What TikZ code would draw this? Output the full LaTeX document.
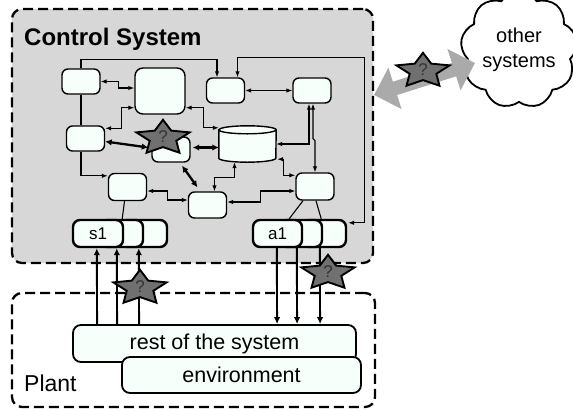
\documentclass[tikz,border=0pt]{standalone}
\usepackage{fontspec}
\setmainfont{Liberation Sans}
\usetikzlibrary{arrows.meta,calc,shapes.symbols}
\definecolor{boxfill}{RGB}{246,255,250}
\definecolor{panel}{RGB}{215,215,215}
\definecolor{stargray}{RGB}{112,112,112}
\definecolor{linkgray}{RGB}{170,170,170}

\tikzset{
  qstar/.pic={
    \draw[fill=stargray, line width=1.9pt, line join=miter, x=1pt, y=0.65pt]
      (90:28) -- (126:14) -- (162:28) -- (198:14) -- (234:28) -- (270:14)
      -- (306:28) -- (342:14) -- (18:28) -- (54:14) -- cycle;
    \node[font=\fontsize{17}{17}\selectfont, text=black!80, inner sep=0pt] (-q) at (0,-1.5) {?};
  }
}

\begin{document}
\begin{tikzpicture}[x=1pt,y=-1pt,
  frame/.style={draw, line width=2.3pt, dash pattern=on 10pt off 5pt, rounded corners=10pt, inner sep=0pt},
  unit/.style={draw, line width=1.4pt, rounded corners=6pt, fill=boxfill,
    minimum width=38pt, minimum height=25pt, inner sep=0pt},
  port/.style={draw, line width=2.4pt, rounded corners=7pt, fill=boxfill,
    minimum height=27pt, inner sep=0pt, font=\fontsize{17}{20}\selectfont},
  plantbox/.style={draw, line width=1.8pt, rounded corners=8pt, fill=boxfill,
    inner sep=0pt, font=\fontsize{21.5}{25}\selectfont},
  wire/.style={line width=1.1pt, >={Latex[length=6pt,width=4.5pt]}},
  heavy/.style={line width=2.3pt, {Latex[length=6.5pt,width=6.5pt]}-{Latex[length=6.5pt,width=6.5pt]}},
  sig/.style={line width=1.9pt, -{Latex[length=7pt,width=6.5pt]}},
  thinline/.style={line width=1.1pt},
  label/.style={inner sep=0pt, anchor=base west}
]
\useasboundingbox (0,0) rectangle (573,410);

% the two enclosing regions
\node[frame, fill=panel, minimum width=361pt, minimum height=254pt] (cs) at (192.5,136) {};
\node[frame, fill=white, minimum width=363pt, minimum height=114pt] (plant) at (193.5,350) {};
\node[label, font=\bfseries\fontsize{24}{24}\selectfont] (cstitle) at (24,45) {Control System};
\node[label, font=\fontsize{23}{23}\selectfont] (planttitle) at (24,391) {Plant};

% components of the control system
\node[unit] (A) at (81,81.5) {};
\node[unit, minimum width=50pt, minimum height=46pt, rounded corners=8pt] (B) at (160,91) {};
\node[unit] (C) at (225.5,90.5) {};
\node[unit] (D) at (312,90.5) {};
\node[unit] (E) at (85.5,138.5) {};
\node[unit] (F) at (171,149.5) {};
\node[unit, minimum height=27pt] (H) at (127.5,187) {};
\node[unit, minimum height=26pt] (I) at (207.5,205) {};
\node[unit, minimum height=27pt] (J) at (315,186.5) {};

% data store drawn as a cylinder
\node[minimum width=57pt, minimum height=36pt, inner sep=0pt] (G) at (247.5,144) {};
\draw[line width=1.4pt, fill=boxfill]
  ($(G.north west)+(0,4)$) -- ($(G.south west)+(0,-4)$)
  arc[start angle=180, end angle=360, x radius=28.5pt, y radius=4pt]
  -- ($(G.north east)+(0,4)$)
  arc[start angle=0, end angle=180, x radius=28.5pt, y radius=4pt] -- cycle;
\draw[line width=1.4pt] ($(G.north west)+(0,4)$)
  arc[start angle=180, end angle=360, x radius=28.5pt, y radius=4pt];

% sensor and actuator ports
\node[port, minimum width=47pt] (s3) at (143.5,233.5) {};
\node[port, minimum width=43pt] (s2) at (121.5,233.5) {};
\node[port, minimum width=50pt] (s1) at (98,233.5) {s1};
\node[port, minimum width=44pt] (a3) at (324,233.5) {};
\node[port, minimum width=42pt] (a2) at (301,233.5) {};
\node[port, minimum width=49pt] (a1) at (277.5,233.5) {a1};

% plant parts
\node[plantbox, minimum width=283pt, minimum height=37pt] (R) at (214.5,343.5) {rest of the system};
\node[plantbox, minimum width=239pt, minimum height=36pt] (N) at (241.5,375) {environment};

% left spine
\draw[wire,->] (A.north) |- ($(C.north)+(-8.5,-18)$) -- ($(C.north)+(-8.5,0)$);
\draw[wire] (A.south) -- (A.south |- E.north);
\draw[wire,->] (A.south |- E.south) |- ($(H.north west)+(0,3)$);

% feedback from the actuator ports
\draw[wire,<->] ($(a3.north east)+(1,4)$) -- ++(16,0) |- ($(C.north)+(12,-20)$) -- ($(C.north)+(12,0)$);

% internal links
\draw[wire,<->] (A.east) -- ++(18,0) |- ($(B.west)+(0,-3)$);
\draw[wire,<->] ($(E.north east)+(0,3)$) -- ++(16,0) |- ($(B.south west)+(0,-7)$);
\draw[wire,<->] ($(B.south east)+(0,-7)$) -- ++(18,0) |- ($(G.north west)+(0,2)$);
\draw[wire,<->] (C.east) -- (D.west);
\draw[wire,<->] (G.east) -| ($(D.south)+(-3,0)$);
\draw[wire,<->] ($(D.south)+(1,0)$) -- ++(0,35) -- ++(2,2) -- (J.north);
\draw[wire,<->] ($(G.south east)+(1,-3)$) -- ++(6,0) |- ($(J.north west)+(0,3)$);
\draw[wire,<->] ($(G.south)+(-13,0)$) -- ++(0,15) -| ($(I.north)+(7,0)$);
\draw[wire,<->] ($(I.east)+(0,-3)$) -- ++(33,0) |- ($(J.west)+(0,4.5)$);
\draw[wire,<->] ($(H.east)+(0,4)$) -- ++(20,0) |- ($(I.west)+(0,-5)$);

% heavy links around F
\draw[heavy] ($(E.east)+(0,3)$) -- ($(F.west)+(-3,-2)$);
\draw[heavy] ($(F.east)+(2,-2)$) -- ($(F.east -| G.west)+(0,-2)$);
\draw[heavy] ($(F.south)+(11,3)$) -- ($(I.north)+(-10,-4)$);

% attachments to the ports
\draw[thinline] ($(H.south)+(-3,0)$) -- ($(s1.north east)+(-2,0)$);
\draw[thinline] ($(J.south)+(-12,0)$) -- ($(a1.north east)+(-14,0)$);
\draw[thinline] ($(J.south)+(1,0)$) -- ($(a2.north east)+(-2,0)$);

% measurements and actuation
\draw[sig] ($(R.north west)+(25,0)$) -- ($(s1.south west)+(25,0)$);
\draw[sig] ($(R.north west)+(45,0)$) -- ($(s1.south west)+(45,0)$);
\draw[sig] ($(R.north west)+(67,0)$) -- ($(s1.south west)+(67,0)$);
\draw[sig] ($(a1.south west)+(25,0)$) -- ($(R.north west)+(205,0)$);
\draw[sig] ($(a1.south west)+(45,0)$) -- ($(R.north west)+(225,0)$);
\draw[sig] ($(a1.south west)+(68,0)$) -- ($(R.north west)+(248,0)$);

% other systems
\node[cloud, draw, line width=1.8pt, fill=white, cloud puffs=9, cloud puff arc=115,
  minimum width=100pt, minimum height=84pt, inner sep=0pt, align=center,
  font=\fontsize{20}{25}\selectfont] (cloud) at (519,50) {other\\systems};
\coordinate (ext) at (592,50);
\draw[wire,->] (ext) -- (cloud.east);
\coordinate (csport) at (374,95);
\coordinate (cloudport) at (475,63);
\draw[linkgray, line width=14pt, {Triangle[width=42pt,length=22pt]}-{Triangle[width=42pt,length=22pt]}]
  (csport) -- (cloudport);

% uncertainties
\pic (st1) at (163,138) {qstar};
\pic (st2) at (140,288) {qstar};
\pic (st3) at (328,273) {qstar};
\pic (st4) at (423,71) {qstar};
\end{tikzpicture}
\end{document}
